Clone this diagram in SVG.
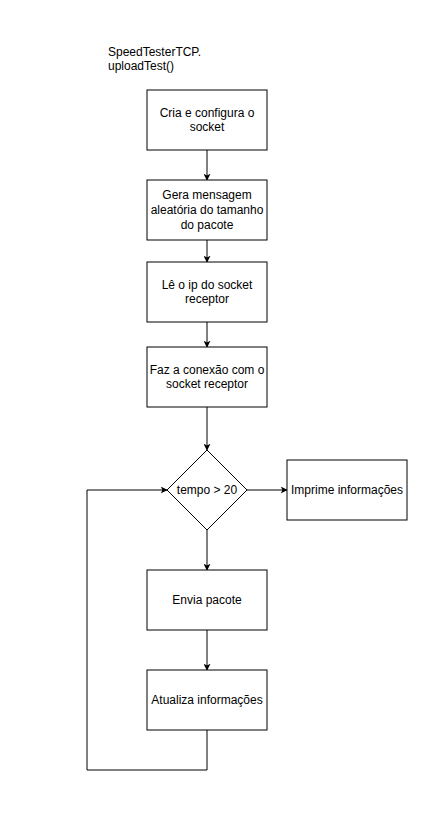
<svg xmlns="http://www.w3.org/2000/svg" width="447" height="815" viewBox="0 0 447 815">
<defs>
<marker id="arr" viewBox="0 0 10 10" refX="9" refY="5" markerWidth="7" markerHeight="7" markerUnits="userSpaceOnUse" orient="auto">
<path d="M0,0 L10,5 L0,10 L2.5,5 Z" fill="#000"/>
</marker>
</defs>
<style>
.box{fill:#fff;stroke:#000;stroke-width:1}
.t{font-family:"Liberation Sans",Arial,sans-serif;font-size:12px;fill:#000;text-anchor:middle}
.tl{font-family:"Liberation Sans",Arial,sans-serif;font-size:12px;fill:#000}
.c{fill:none;stroke:#000;stroke-width:1;marker-end:url(#arr)}
</style>
<rect width="447" height="815" fill="#fff"/>
<g id="title"><text class="tl" x="108" y="56">SpeedTesterTCP.</text><text class="tl" x="108" y="70">uploadTest()</text></g>
<g id="connectors">
<path class="c" d="M207,150 V180"/>
<path class="c" d="M207,240 V262"/>
<path class="c" d="M207,322 V347"/>
<path class="c" d="M207,407 V450"/>
<path class="c" d="M247,490 H287"/>
<path class="c" d="M207,530 V570"/>
<path class="c" d="M207,630 V670"/>
<path class="c" d="M207,730 V770 H87 V490 H167"/>
</g>
<g id="n1"><rect class="box" x="147" y="90" width="120" height="60"/><text class="t" x="207" y="117">Cria e configura o</text><text class="t" x="207" y="131">socket</text></g>
<g id="n2"><rect class="box" x="147" y="180" width="120" height="60"/><text class="t" x="207" y="199">Gera mensagem</text><text class="t" x="207" y="214">aleatória do tamanho</text><text class="t" x="207" y="229">do pacote</text></g>
<g id="n3"><rect class="box" x="147" y="262" width="120" height="60"/><text class="t" x="207" y="289">Lê o ip do socket</text><text class="t" x="207" y="303">receptor</text></g>
<g id="n4"><rect class="box" x="147" y="347" width="120" height="60"/><text class="t" x="207" y="374">Faz a conexão com o</text><text class="t" x="207" y="388">socket receptor</text></g>
<g id="d1"><path class="box" d="M207,450 L247,490 L207,530 L167,490 Z"/><text class="t" x="207" y="494">tempo &gt; 20</text></g>
<g id="n5"><rect class="box" x="287" y="460" width="120" height="60"/><text class="t" x="347" y="494">Imprime informações</text></g>
<g id="n6"><rect class="box" x="147" y="570" width="120" height="60"/><text class="t" x="207" y="604">Envia pacote</text></g>
<g id="n7"><rect class="box" x="147" y="670" width="120" height="60"/><text class="t" x="207" y="704">Atualiza informações</text></g>
</svg>
